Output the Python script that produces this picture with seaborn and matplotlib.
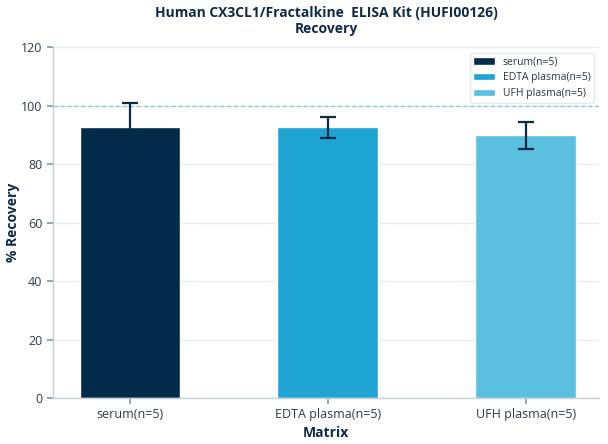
import matplotlib
matplotlib.use("Agg")
import matplotlib.pyplot as plt
import seaborn as sns
import pandas as pd

categories = ["serum(n=5)", "EDTA plasma(n=5)", "UFH plasma(n=5)"]
recovery = [92.5, 92.5, 89.8]
errors = [8.3, 3.5, 4.5]
colors = ["#022b4a", "#1fa5d3", "#5bbfe0"]
yticks = [0, 20, 40, 60, 80, 100, 120]

sns.set_theme(style="white")
plt.rcParams['font.family'] = ['Open Sans', 'DejaVu Sans']

df = pd.DataFrame({"Matrix": categories, "Recovery": recovery})

fig = plt.figure(figsize=(6.08, 4.44), dpi=100)
ax = fig.add_axes([0.087, 0.1036, 0.898, 0.7905])

sns.barplot(data=df, x="Matrix", y="Recovery", hue="Matrix", palette=colors,
            dodge=False, width=0.51, errorbar=None, legend=True, ax=ax,
            saturation=1, zorder=2)

ax.errorbar(x=list(range(len(categories))), y=recovery, yerr=errors, fmt="none",
            ecolor="#0b2a45", elinewidth=1.6, capsize=6, capthick=1.6, zorder=3)

ax.axhline(100, color="#8ccadb", linestyle=(0, (3, 2)), linewidth=1.0, zorder=1)

ax.set_ylim(0, 120)
ax.set_yticks(yticks)
ax.set_xlim(-0.39, 2.37)
ax.yaxis.grid(True, color="#e6ebee", linewidth=1.0, zorder=0)
ax.set_axisbelow(True)

for s in ["top", "right"]:
    ax.spines[s].set_visible(False)
for s in ["left", "bottom"]:
    ax.spines[s].set_color("#c5d0d6")
    ax.spines[s].set_linewidth(1.0)

ax.tick_params(axis="both", which="both", length=4, color="#8a9aa6",
               labelsize=9, labelcolor="#2e3b47", left=True, bottom=True)

ax.set_xlabel("Matrix", fontsize=10, fontweight="bold", color="#0f2b46", labelpad=3)
ax.set_ylabel("% Recovery", fontsize=10, fontweight="bold", color="#0f2b46")
ax.yaxis.set_label_coords(-0.06, 0.5)
ax.set_title("Human CX3CL1/Fractalkine  ELISA Kit (HUFI00126)\nRecovery",
             fontsize=10, fontweight="bold", color="#0f2b46", pad=10, linespacing=1.2)

leg = ax.legend(loc="upper right", fontsize=7.5, frameon=True, handlelength=2.1,
                handleheight=0.7, borderpad=0.35, labelspacing=0.45,
                handletextpad=0.7, borderaxespad=0, bbox_to_anchor=(0.991, 0.983))
leg.get_frame().set_edgecolor("#dde3e7")
leg.get_frame().set_linewidth(1.0)
for t in leg.get_texts():
    t.set_color("#2a3540")

fig.savefig("out.png", dpi=100)
